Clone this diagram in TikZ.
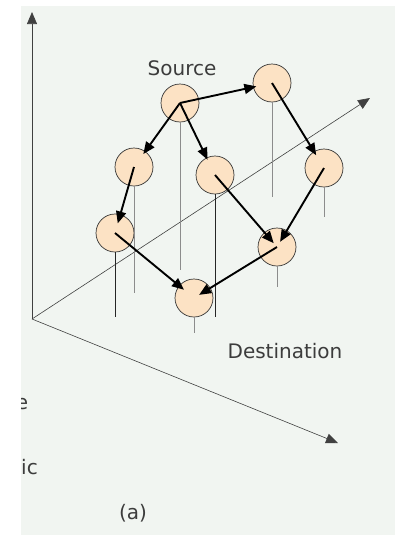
\documentclass[tikz,border=0pt]{standalone}
\usepackage{fontspec}
\setmainfont{DejaVu Sans}
\usetikzlibrary{arrows.meta}

\definecolor{paper}{RGB}{241,245,241}
\definecolor{peach}{RGB}{252,226,196}
\definecolor{ink}{RGB}{60,60,60}

\tikzset{
  router/.style={circle, draw=black!80, line width=0.7pt, fill=peach,
    minimum size=38pt, inner sep=0pt},
  route/.style={line width=1.9pt, -{Triangle[length=12pt,width=10pt]}},
  axis/.style={line width=0.7pt, draw=black!75, -{Triangle[length=12pt,width=10pt]}},
  drop/.style={line width=0.8pt, draw=black!45},
  lbl/.style={text=ink, font=\fontsize{20}{23}\selectfont},
}

\begin{document}
\begin{tikzpicture}[x=1pt, y=-1pt]
  \useasboundingbox (0,0) rectangle (395,536);

  % background sheet
  \fill[paper] (21,6) rectangle (395,535);

  % axes
  \coordinate (O) at (32,319);
  \coordinate (up) at (32,12);
  \coordinate (depth) at (370,98);
  \coordinate (right) at (338,443);
  \draw[axis] (O) -- (up);
  \draw[axis, line width=0.6pt] (O) -- (depth);
  \draw[axis, line width=0.6pt] (O) -- (right);

  % routers
  \node[router] (S) at (180,103) {};
  \node[router] (A) at (272,83) {};
  \node[router] (B) at (134,167) {};
  \node[router] (C) at (215,175) {};
  \node[router] (D) at (324,168) {};
  \node[router] (E) at (115,233) {};
  \node[router] (F) at (277,247) {};
  \node[router] (G) at (194,298) {};

  % drop lines to the floor
  \foreach \n/\len in {S/148, A/95, B/107, D/30, F/21, G/16}
    \draw[drop] (\n.south) -- ++(0,\len);
  \foreach \n/\len in {C/123, E/65}
    \draw[drop, draw=black!85] (\n.south) -- ++(0,\len);

  % routes from source to destination
  \foreach \a/\b/\s in {S/A/16, S/B/16, S/C/17, A/D/15, B/E/10,
                        C/F/5, D/F/6, E/G/13, F/G/6}
    \draw[route, shorten >=\s pt] (\a.center) -- (\b.center);

  % labels
  \node[lbl] (src) at (182,68) {Source};
  \node[lbl] (dst) at (285,351) {Destination};
  \node[lbl] (cap) at (133,513) {(a)};
  \begin{scope}
    \clip (21,6) rectangle (395,535);
    \node[lbl] (t1) at (22,404) {e};
    \node[lbl, anchor=west, inner sep=0pt] (t2) at (21,467) {ic};
  \end{scope}
\end{tikzpicture}
\end{document}
